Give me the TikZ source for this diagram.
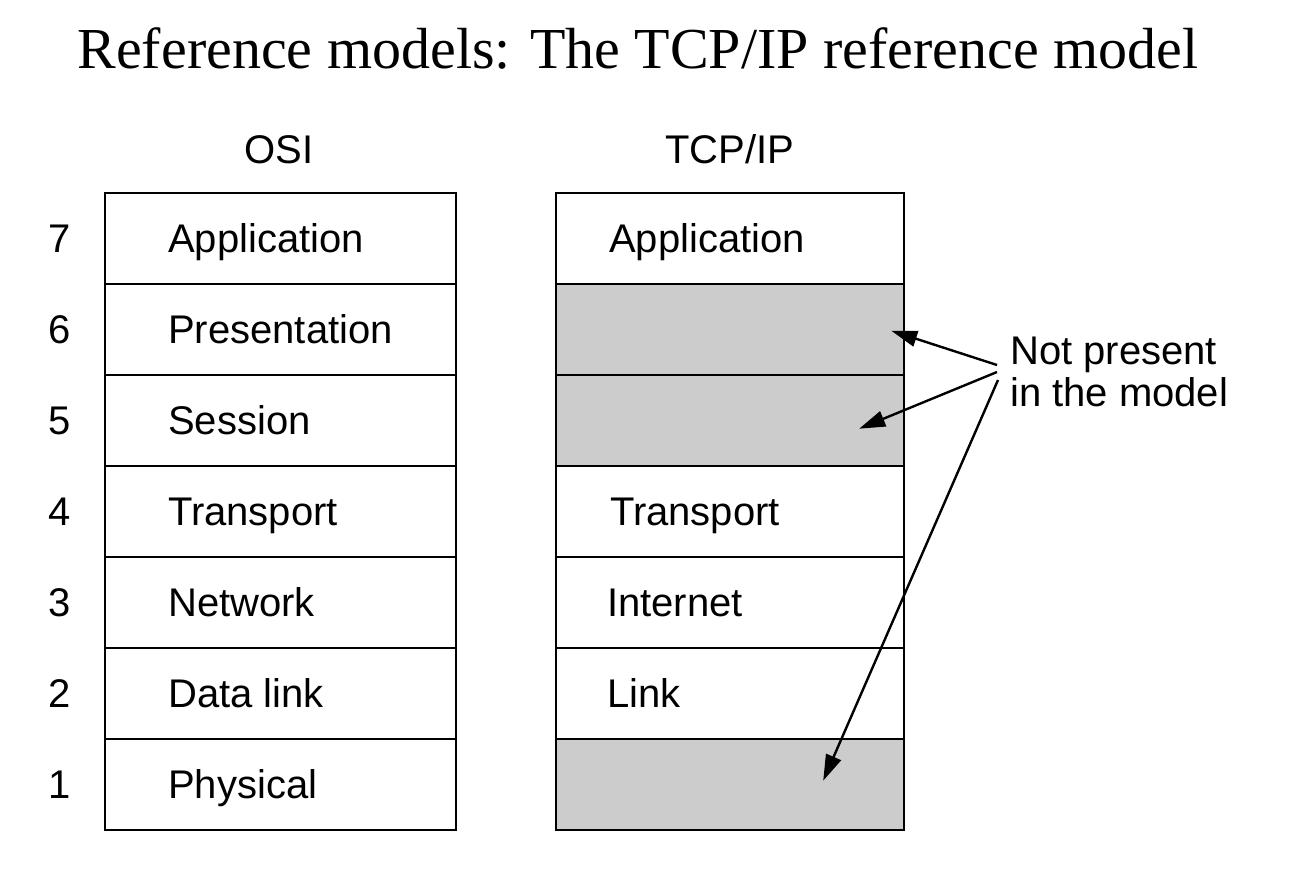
\documentclass[tikz,border=0pt]{standalone}
\usepackage{fontspec}
\setmainfont{Liberation Serif}
\newfontfamily\sansf{Liberation Sans}
\usetikzlibrary{arrows.meta}
\begin{document}
\begin{tikzpicture}[x=1pt,y=-1pt,
  layer/.style={draw=black,line width=2.4pt,minimum width=351pt,minimum height=91pt,inner sep=0pt,anchor=north west},
  tlayer/.style={layer,minimum width=348pt},
  emptylayer/.style={tlayer,fill=gray!40},
  lbl/.style={font=\sansf\fontsize{40}{44}\selectfont,inner sep=0pt,anchor=base west},
  num/.style={font=\sansf\fontsize{40}{44}\selectfont,inner sep=0pt,anchor=base},
  pointer/.style={line width=2.4pt,-{Triangle[length=26pt,width=16pt]}}]
\useasboundingbox (0,0) rectangle (1306,892);
\node[font=\fontsize{58}{60}\selectfont,inner sep=0pt,anchor=base] (title) at (638,68) {Reference models: The TCP/IP reference model};
% column headers
\node[font=\sansf\fontsize{40}{44}\selectfont,inner sep=0pt,anchor=base] (osih) at (279,163) {OSI};
\node[font=\sansf\fontsize{40}{44}\selectfont,inner sep=0pt,anchor=base] (tcph) at (730,163) {TCP/IP};
% OSI column
\foreach \i/\n/\t in {7/0/Application,6/1/Presentation,5/2/Session,4/3/Transport,3/4/Network,2/5/Data link,1/6/Physical}{
  \node[layer] (o\i) at (104,192+91*\n) {};
  \node[lbl] (ol\i) at ([xshift=64pt,yshift=-14pt]o\i.west) {\t};
  \node[num] (n\i) at ([xshift=-44pt,yshift=-14pt]o\i.west) {\i};
}
% TCP/IP column
\node[tlayer] (t7) at (555,192) {};
\node[emptylayer] (t6) at (555,283) {};
\node[emptylayer] (t5) at (555,374) {};
\node[tlayer] (t4) at (555,465) {};
\node[tlayer] (t3) at (555,556) {};
\node[tlayer] (t2) at (555,647) {};
\node[emptylayer] (t1) at (555,738) {};
\node[lbl] (tl7) at ([xshift=54pt,yshift=-14pt]t7.west) {Application};
\node[lbl] (tl4) at ([xshift=55pt,yshift=-14pt]t4.west) {Transport};
\node[lbl] (tl3) at ([xshift=52pt,yshift=-14pt]t3.west) {Internet};
\node[lbl] (tl2) at ([xshift=52pt,yshift=-14pt]t2.west) {Link};
% note
\node[font=\sansf\fontsize{40}{42}\selectfont,inner sep=0pt,align=left,anchor=north west] (note) at (1010,336.5) {Not present\\in the model};
\coordinate (s1) at (997,365);
\coordinate (s2) at (997,372);
\coordinate (s3) at (998,380);
\coordinate (e1) at ([xshift=161pt,yshift=-1pt]t6.center);
\coordinate (e2) at ([xshift=129pt,yshift=-8pt]t5.center);
\coordinate (e3) at ([xshift=93pt,yshift=4pt]t1.center);
\draw[pointer] (s1) -- (e1);
\draw[pointer] (s2) -- (e2);
\draw[pointer] (s3) -- (e3);
\end{tikzpicture}
\end{document}
